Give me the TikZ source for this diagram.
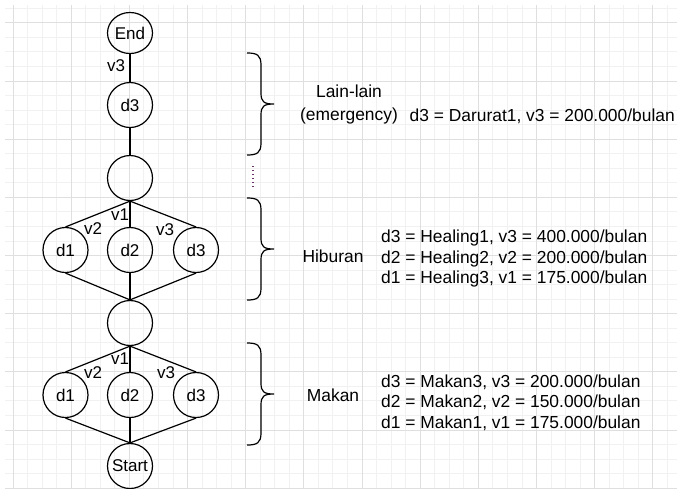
\documentclass[tikz,border=0pt]{standalone}
\usepackage{fontspec}
\setmainfont{Liberation Sans}
\usetikzlibrary{shapes.geometric}
\definecolor{gridminor}{HTML}{F1F1F1}
\definecolor{gridmajor}{HTML}{DFDFDF}
\definecolor{dotcol}{HTML}{6A3468}
\newcommand\curlyB[3]{%
  \pgfmathsetmacro\ym{(#2+#3)/2}%
  \draw[bracestyle] (#1,#2) .. controls (#1+10,#2) and (#1+14,#2+2) .. (#1+14,#2+12)
    -- (#1+14,\ym-11) .. controls (#1+14,\ym-2) and (#1+17,\ym) .. (#1+27,\ym)
    .. controls (#1+17,\ym) and (#1+14,\ym+2) .. (#1+14,\ym+11)
    -- (#1+14,#3-12) .. controls (#1+14,#3-2) and (#1+10,#3) .. (#1,#3);
}
\begin{document}
\begin{tikzpicture}[x=1pt,y=-1pt,
  circ/.style={circle, draw, line width=1.2pt, minimum size=45pt, inner sep=0pt,
    font=\fontsize{17}{20}\selectfont},
  ell/.style={ellipse, draw, line width=1.2pt, minimum width=45pt, minimum height=41pt,
    inner sep=0pt, font=\fontsize{17}{20}\selectfont},
  lbl/.style={font=\fontsize{17}{20}\selectfont, inner sep=0pt},
  txt/.style={font=\fontsize{17.4}{20.5}\selectfont, inner sep=0pt},
  link/.style={line width=1.2pt},
  bracestyle/.style={line width=1.2pt},
  gmin/.style={draw=gridminor, line width=0.8pt},
  gmaj/.style={draw=gridmajor, line width=0.8pt}]
\useasboundingbox (0,0) rectangle (677,488);
\fill[white] (0,0) rectangle (677,488);
% grid
\begin{scope}
\clip (5,5) rectangle (677,488);
\foreach \i in {0,...,45} {\draw[gmin] (13+14.54*\i,5) -- (13+14.54*\i,488);}
\foreach \j in {0,...,33} {\draw[gmin] (5,8.26+14.54*\j) -- (677,8.26+14.54*\j);}
\foreach \i in {0,...,11} {\draw[gmaj] (13+58.16*\i,5) -- (13+58.16*\i,488);}
\foreach \j in {0,...,8} {\draw[gmaj] (5,22.8+58.16*\j) -- (677,22.8+58.16*\j);}
\end{scope}

% nodes
\node[ell] (nE) at (130,33) {End};
\node[circ] (nL3) at (130,105) {d3};
\node[circ] (nE1) at (130,178) {};
\node[circ] (nH1) at (65.5,250) {d1};
\node[circ] (nH2) at (130,250) {d2};
\node[circ] (nH3) at (196,250) {d3};
\node[circ] (nE2) at (130,323) {};
\node[circ] (nM1) at (65.5,395) {d1};
\node[circ] (nM2) at (130,395) {d2};
\node[circ] (nM3) at (196,395) {d3};
\node[circ] (nS) at (130,466) {Start};

% edges
\draw[link] (nE.south) -- (nL3.north);
\draw[link] (nL3.south) -- (nE1.north);
\draw[link] (nE1.south) -- (nH1.north);
\draw[link] (nE1.south) -- (nH2.north);
\draw[link] (nE1.south) -- (nH3.north);
\draw[link] (nH1.south) -- (nE2.north);
\draw[link] (nH2.south) -- (nE2.north);
\draw[link] (nH3.south) -- (nE2.north);
\draw[link] (nE2.south) -- (nM1.north);
\draw[link] (nE2.south) -- (nM2.north);
\draw[link] (nE2.south) -- (nM3.north);
\draw[link] (nM1.south) -- (nS.north);
\draw[link] (nM2.south) -- (nS.north);
\draw[link] (nM3.south) -- (nS.north);

% edge labels
\node[lbl] (lv3a) at (116,66) {v3};
\node[lbl] (lv1h) at (120,215) {v1};
\node[lbl] (lv2h) at (93,229) {v2};
\node[lbl] (lv3h) at (165,230) {v3};
\node[lbl] (lv1m) at (120,359) {v1};
\node[lbl] (lv2m) at (93,373) {v2};
\node[lbl] (lv3m) at (166,373) {v3};

% braces
\curlyB{247}{53}{155}
\curlyB{247}{198}{300}
\curlyB{247}{343}{445}
\coordinate (dotA) at (253,166);
\coordinate (dotB) at (253,188);
\draw[dotcol, line width=1.3pt, dash pattern=on 1.3pt off 2.7pt] (dotA) -- (dotB);

% texts
\node[txt, align=center] (tLain) at (349,104.5) {Lain-lain\\[2pt](emergency)};
\node[txt, anchor=west] (tLainV) at (409.5,116) {d3 = Darurat1, v3 = 200.000/bulan};
\node[txt] (tHib) at (333,256) {Hiburan};
\node[txt, align=left, anchor=west] (tHibV) at (381,258.5)
  {d3 = Healing1, v3 = 400.000/bulan\\d2 = Healing2, v2 = 200.000/bulan\\d1 = Healing3, v1 = 175.000/bulan};
\node[txt] (tMak) at (333,395) {Makan};
\node[txt, align=left, anchor=west] (tMakV) at (381,402.5)
  {d3 = Makan3, v3 = 200.000/bulan\\d2 = Makan2, v2 = 150.000/bulan\\d1 = Makan1, v1 = 175.000/bulan};
\end{tikzpicture}
\end{document}
